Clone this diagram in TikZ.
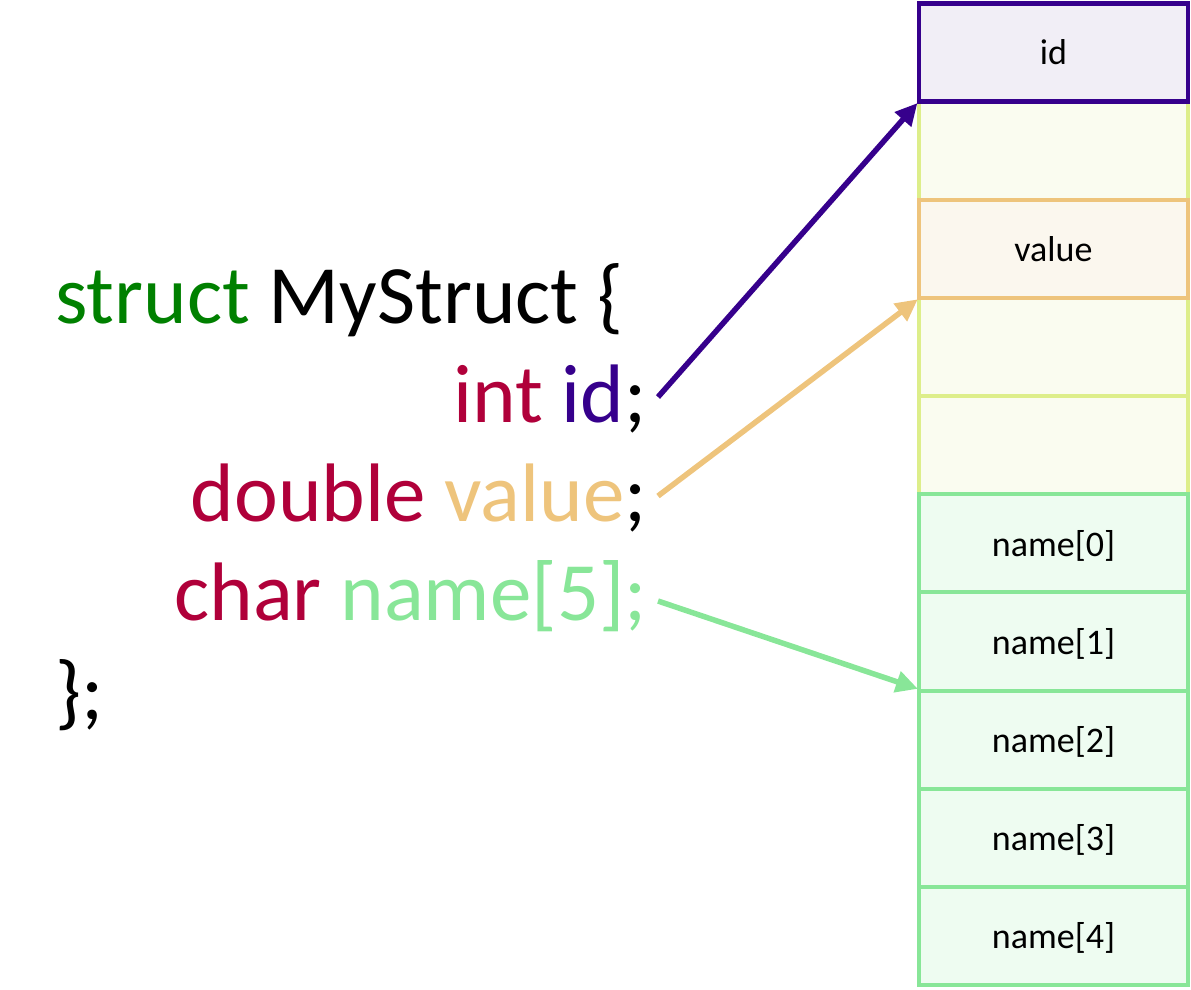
\documentclass[tikz,border=0pt]{standalone}
\usepackage{fontspec}
\setmainfont{Carlito}
\usetikzlibrary{arrows.meta}
\definecolor{idc}{HTML}{36008C}
\definecolor{idfill}{HTML}{F1EEF6}
\definecolor{yel}{HTML}{DDEE8A}
\definecolor{yelfill}{HTML}{FAFCF0}
\definecolor{valc}{HTML}{EEC47C}
\definecolor{valfill}{HTML}{FBF7EE}
\definecolor{namec}{HTML}{88E698}
\definecolor{namefill}{HTML}{EEFCF1}
\definecolor{kw}{HTML}{008000}
\definecolor{typ}{HTML}{B0003A}
\begin{document}
\begin{tikzpicture}[x=1pt,y=-1pt,
  cell/.style={draw, line width=4pt, minimum width=269pt, minimum height=98.15pt,
    inner sep=0pt, text depth=0pt, font=\fontsize{36}{40}\selectfont},
  yelcell/.style={cell, draw=yel, fill=yelfill},
  namecell/.style={cell, draw=namec, fill=namefill},
  code/.style={inner sep=0pt, font=\fontsize{83}{99}\selectfont},
  conn/.style={line width=5.5pt, -{Triangle[length=22pt,width=21pt]}, shorten >=-1pt}]
\useasboundingbox (0,0) rectangle (1191,990);
% memory cells
\node[yelcell] (r1) at (1053.5,150.6) {};
\node[yelcell] (r3) at (1053.5,347.0) {};
\node[yelcell] (r4) at (1053.5,445.1) {};
\node[namecell] (n0) at (1053.5,543.3) {name[0]};
\node[namecell] (n1) at (1053.5,641.5) {name[1]};
\node[namecell] (n2) at (1053.5,739.6) {name[2]};
\node[namecell] (n3) at (1053.5,837.8) {name[3]};
\node[namecell] (n4) at (1053.5,935.9) {name[4]};
\node[cell, draw=valc, fill=valfill] (val) at (1053.5,248.8) {value};
\node[cell, draw=idc, fill=idfill, line width=4.5pt] (idb) at (1053.5,52.5) {id};
% code
\node[code, anchor=base west] (l1) at (55,323) {\textcolor{kw}{struct} MyStruct \{};
\node[code, anchor=base east] (l2) at (647,422) {\textcolor{typ}{int} \textcolor{idc}{id};};
\node[code, anchor=base east] (l3) at (647,521) {\textcolor{typ}{double} \textcolor{valc}{value};};
\node[code, anchor=base east] (l4) at (647,620) {\textcolor{typ}{char} \textcolor{namec}{name[5];}};
\node[code, anchor=base west] (l5) at (55,719) {\};};
% arrow starts
\coordinate (s1) at (658,397);
\coordinate (s2) at (658,496);
\coordinate (s3) at (658,601);
\draw[conn, draw=idc, fill=idc] (s1) -- (idb.south west);
\draw[conn, draw=valc, fill=valc] (s2) -- (val.south west);
\draw[conn, draw=namec, fill=namec] (s3) -- (n2.north west);
\end{tikzpicture}
\end{document}
